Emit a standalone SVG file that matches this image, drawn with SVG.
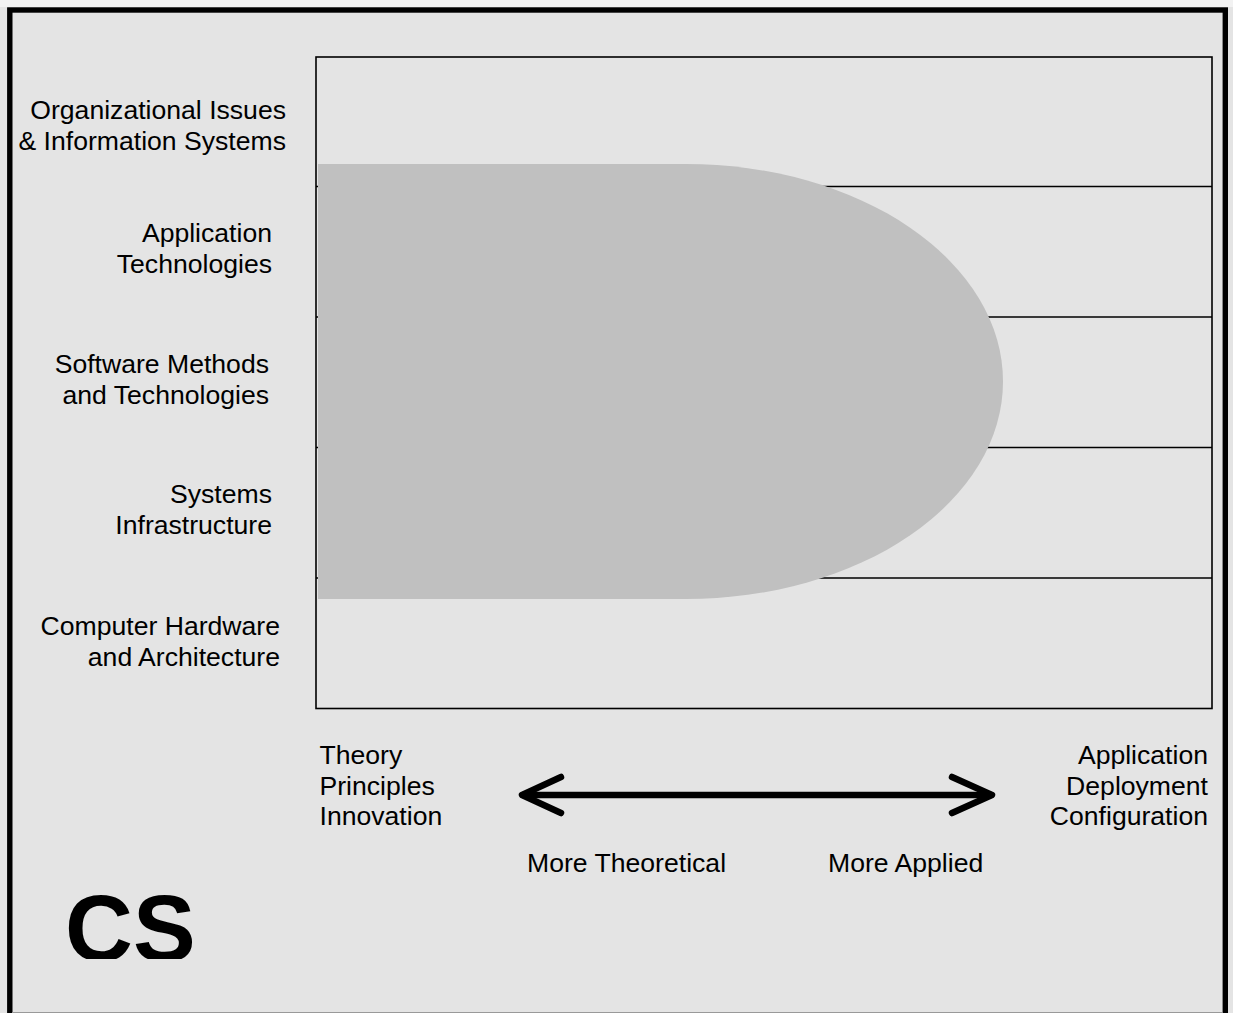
<svg xmlns="http://www.w3.org/2000/svg" width="1233" height="1013" viewBox="0 0 1233 1013">
  <style>
    .lbl { font-family: "Liberation Sans", Arial, sans-serif; font-size: 26.6px; fill: #000; }
    .r { text-anchor: end; }
    .row { stroke: #000; stroke-width: 1.6; fill: none; }
    .arrow { stroke: #000; stroke-width: 6.5; fill: none; stroke-linecap: round; stroke-linejoin: round; }
  </style>
  <defs>
    <clipPath id="csclip"><rect x="0" y="850" width="400" height="109"/></clipPath>
  </defs>
  <rect x="0" y="0" width="1233" height="1013" fill="#e4e4e4"/>
  <rect x="0" y="0" width="1233" height="7" fill="#f2f2f2"/>
  <rect id="frame" x="9.8" y="10" width="1215.5" height="1010" fill="none" stroke="#000" stroke-width="5.4"/>
  <line x1="12" y1="1012.5" x2="1222" y2="1012.5" stroke="#999" stroke-width="1"/>

  <g id="grid">
    <line class="row" x1="316" y1="186.5" x2="1212" y2="186.5"/>
    <line class="row" x1="316" y1="317" x2="1212" y2="317"/>
    <line class="row" x1="316" y1="447.5" x2="1212" y2="447.5"/>
    <line class="row" x1="316" y1="578" x2="1212" y2="578"/>
  </g>

  <g id="cs-region">
    <path d="M318,164 H686 A317,217.5 0 0 1 686,599 H318 Z" fill="#c0c0c0"/>
  </g>

  <rect id="chart" x="316" y="57" width="896" height="651.5" fill="none" stroke="#000" stroke-width="1.6"/>

  <g id="row-org">
    <text class="lbl r" x="286" y="119">Organizational Issues</text>
    <text class="lbl r" x="286" y="149.5">&amp; Information Systems</text>
  </g>
  <g id="row-app">
    <text class="lbl r" x="272" y="242">Application</text>
    <text class="lbl r" x="272" y="272.5">Technologies</text>
  </g>
  <g id="row-sw">
    <text class="lbl r" x="269" y="373">Software Methods</text>
    <text class="lbl r" x="269" y="403.5">and Technologies</text>
  </g>
  <g id="row-sys">
    <text class="lbl r" x="272" y="503">Systems</text>
    <text class="lbl r" x="272" y="533.5">Infrastructure</text>
  </g>
  <g id="row-hw">
    <text class="lbl r" x="280" y="635">Computer Hardware</text>
    <text class="lbl r" x="280" y="665.5">and Architecture</text>
  </g>

  <g id="theory">
    <text class="lbl" x="319.5" y="764">Theory</text>
    <text class="lbl" x="319.5" y="794.5">Principles</text>
    <text class="lbl" x="319.5" y="825">Innovation</text>
  </g>
  <g id="applied">
    <text class="lbl r" x="1208" y="764">Application</text>
    <text class="lbl r" x="1208" y="794.5">Deployment</text>
    <text class="lbl r" x="1208" y="825">Configuration</text>
  </g>

  <g id="connectors">
    <line class="arrow" x1="523" y1="795" x2="991" y2="795"/>
    <polyline class="arrow" points="561,777 522,795 561,813"/>
    <polyline class="arrow" points="952,777 992,795 952,813"/>
  </g>

  <g id="scale-labels">
    <text class="lbl" x="527" y="872">More Theoretical</text>
    <text class="lbl" x="828" y="872">More Applied</text>
  </g>

  <g id="cs-title" clip-path="url(#csclip)">
    <text x="65" y="960.5" font-family="Liberation Sans, Arial, sans-serif" font-weight="bold" font-size="94" fill="#000">CS</text>
  </g>
</svg>
